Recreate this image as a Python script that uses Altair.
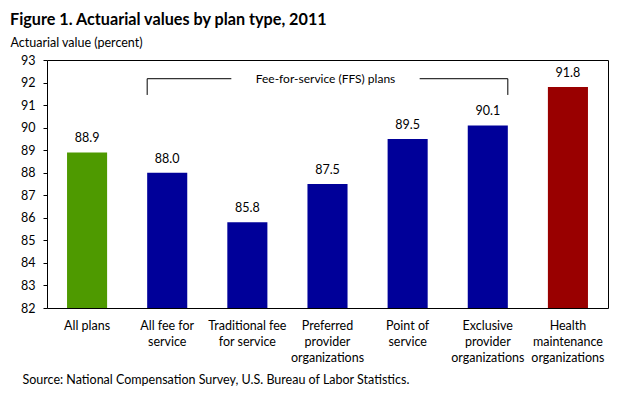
import json
import altair as alt
import pandas as pd

# ---- data ----
categories = [
    "All plans",
    "All fee for service",
    "Traditional fee for service",
    "Preferred provider organizations",
    "Point of service",
    "Exclusive provider organizations",
    "Health maintenance organizations",
]
label_lines = [
    ["All plans"],
    ["All fee for", "service"],
    ["Traditional fee", "for service"],
    ["Preferred", "provider", "organizations"],
    ["Point of", "service"],
    ["Exclusive", "provider", "organizations"],
    ["Health", "maintenance", "organizations"],
]
values = [88.9, 88.0, 85.8, 87.5, 89.5, 90.1, 91.8]
groups = ["All plans", "FFS", "FFS", "FFS", "FFS", "FFS", "HMO"]
group_names = ["All plans", "FFS", "HMO"]
group_colors = ["#4e9a00", "#000099", "#990000"]
y_ticks = list(range(82, 94))

title_text = "Figure 1. Actuarial values by plan type, 2011"
y_title = "Actuarial value (percent)"
source_text = "Source: National Compensation Survey, U.S. Bureau of Labor Statistics."
bracket_label = "Fee-for-service (FFS) plans"
# bracket spans bar of category index 1 through bar of category index 5
bracket_first = 1
bracket_last = 5
bracket_top = 92.17
bracket_bottom = 91.45

FONT = "Lato"

df = pd.DataFrame({"cat": categories, "value": values, "group": groups})

# bracket segments expressed in category-step units (band i covers i+0.25 .. i+0.75)
left_x = bracket_first + 0.25
right_x = bracket_last + 0.75
gap_left = 2.3
gap_right = 4.65
seg = pd.DataFrame({
    "x": [left_x, left_x, gap_right, right_x],
    "x2": [left_x, gap_left, right_x, right_x],
    "value": [bracket_bottom, bracket_top, bracket_top, bracket_bottom],
    "value2": [bracket_top, bracket_top, bracket_top, bracket_top],
})
lab = pd.DataFrame({"x": [(gap_left + gap_right) / 2], "value": [bracket_top], "t": [bracket_label]})

label_map = json.dumps(dict(zip(categories, label_lines)))

x_scale = alt.Scale(paddingInner=0.5, paddingOuter=0.25)
y_scale = alt.Scale(domain=[82, 93], nice=False, zero=False)

x_axis = alt.Axis(
    title=source_text,
    titleX=-25,
    titleY=71.5,
    titleAlign="left",
    titleBaseline="middle",
    titleFontWeight="normal",
    titleFontSize=12.5,
    titleFont=FONT,
    titleColor="black",
    labelExpr=f"{label_map}[datum.value]",
    labelAngle=0,
    labelOverlap=False,
    labelPadding=11,
    labelLineHeight=16,
    labelBaseline="top",
    labelFontSize=12.5,
    labelFont=FONT,
    labelColor="black",
    ticks=False,
    domain=False,
)
y_axis = alt.Axis(
    values=y_ticks,
    title=y_title,
    titleAngle=0,
    titleAlign="left",
    titleBaseline="middle",
    titleX=-37,
    titleY=-17.5,
    titleFontWeight="normal",
    titleFontSize=12.5,
    titleFont=FONT,
    titleColor="black",
    tickSize=4,
    tickColor="black",
    labelPadding=8,
    labelFontSize=12.5,
    labelFont=FONT,
    labelColor="black",
    labelOverlap=False,
    domain=False,
    grid=False,
)

x_enc = alt.X("cat:N", sort=categories, scale=x_scale, axis=x_axis)
y_enc = alt.Y("value:Q", scale=y_scale, axis=y_axis)

bars = alt.Chart(df).mark_bar(clip=True).encode(
    x=x_enc,
    y=y_enc,
    color=alt.Color("group:N", scale=alt.Scale(domain=group_names, range=group_colors), legend=None),
)
value_labels = alt.Chart(df).mark_text(dy=-14, fontSize=12.5, font=FONT, color="black").encode(
    x=x_enc,
    y=y_enc,
    text=alt.Text("value:Q", format=".1f"),
)

xq = alt.Scale(domain=[0, len(categories)], nice=False, zero=False)
rules = alt.Chart(seg).mark_rule(color="black", strokeWidth=1).encode(
    x=alt.X("x:Q", scale=xq, axis=None),
    x2="x2:Q",
    y=y_enc,
    y2="value2:Q",
)
bracket_text = alt.Chart(lab).mark_text(fontSize=12, font=FONT, color="black", baseline="middle").encode(
    x=alt.X("x:Q", scale=xq, axis=None),
    y=y_enc,
    text="t:N",
)

chart = (
    alt.layer(alt.layer(bars, value_labels), rules, bracket_text)
    .resolve_scale(x="independent")
    .properties(
        width=561,
        height=248,
        autosize=alt.AutoSizeParams(type="none"),
        padding={"left": 39, "top": 52, "right": 7, "bottom": 90},
        title=alt.TitleParams(
            title_text,
            anchor="start",
            frame="group",
            dx=-37,
            fontSize=16.2,
            font=FONT,
            fontWeight="bold",
            color="black",
            offset=8,
        ),
    )
    .configure_view(stroke="black", strokeWidth=1)
)

chart.save("out.html", embed_options={"renderer": "svg", "actions": False})
